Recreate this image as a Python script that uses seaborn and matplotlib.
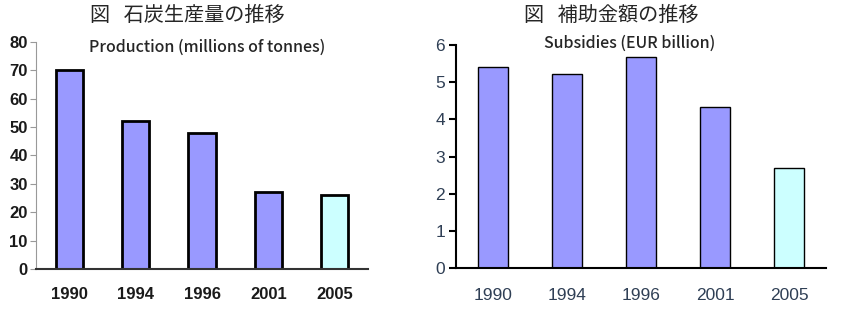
import numpy as np
import pandas as pd
import matplotlib
matplotlib.use("Agg")
import matplotlib.pyplot as plt
import seaborn as sns

# data
years = ["1990", "1994", "1996", "2001", "2005"]
production = [70, 52, 48, 27, 26]
subsidies = [5.4, 5.22, 5.68, 4.32, 2.7]
bar_colors = ["#9999FF", "#9999FF", "#9999FF", "#9999FF", "#CCFFFF"]

sns.set_style("white")
plt.rcParams['font.family'] = ['Noto Sans CJK JP', 'DejaVu Sans']

df = pd.DataFrame({"year": years, "production": production, "subsidies": subsidies})

fig = plt.figure(figsize=(8.47, 3.15), dpi=100)
ax1 = fig.add_axes([0.0425, 0.146, 0.392, 0.721])
ax2 = fig.add_axes([0.5384, 0.149, 0.4368, 0.708])

# left: coal production
sns.barplot(data=df, x="year", y="production", hue="year", palette=bar_colors, saturation=1,
            width=0.41, edgecolor="black", linewidth=2, legend=False, ax=ax1)
ax1.set_ylim(0, 80)
ax1.set_xlim(-0.5, 4.5)
ax1.set_yticks(range(0, 81, 10))
ax1.set_xlabel("")
ax1.set_ylabel("")
ax1.set_xticks(np.arange(-0.5, 5, 1), minor=True)
ax1.tick_params(axis="x", which="major", length=0, pad=13)
ax1.tick_params(axis="x", which="minor", length=3, color="#999999", direction="out")
ax1.tick_params(axis="y", length=4, color="#999999", direction="out", pad=2, left=True)
for lab in ax1.get_xticklabels() + ax1.get_yticklabels():
    lab.set_family("Liberation Sans")
    lab.set_fontweight("bold")
    lab.set_fontsize(12)
    lab.set_color("#1a1a1a")
for s in ["top", "right"]:
    ax1.spines[s].set_visible(False)
ax1.spines["left"].set_color("#999999")
ax1.spines["bottom"].set_color("#333333")
ax1.spines["bottom"].set_linewidth(1.5)

# right: subsidies
sns.barplot(data=df, x="year", y="subsidies", hue="year", palette=bar_colors, saturation=1,
            width=0.4, edgecolor="black", linewidth=1, legend=False, ax=ax2)
ax2.set_ylim(0, 6)
ax2.set_xlim(-0.5, 4.5)
ax2.set_yticks(range(0, 7))
ax2.set_xlabel("")
ax2.set_ylabel("")
ax2.set_xticks(np.arange(-0.5, 5, 1), minor=True)
ax2.tick_params(axis="x", which="major", length=0, pad=14)
ax2.tick_params(axis="x", which="minor", length=6, width=1.5, color="black", direction="out")
ax2.tick_params(axis="y", length=5, width=1.5, color="black", direction="out", pad=3, left=True)
for lab in ax2.get_xticklabels() + ax2.get_yticklabels():
    lab.set_family("Liberation Sans")
    lab.set_fontsize(12.5)
    lab.set_color("#2f3f55")
for s in ["top", "right"]:
    ax2.spines[s].set_visible(False)
ax2.spines["left"].set_color("black")
ax2.spines["left"].set_linewidth(1.5)
ax2.spines["bottom"].set_color("black")
ax2.spines["bottom"].set_linewidth(1.5)

# titles
fig.text(187 / 847, 1 - 15 / 315, "図   石炭生産量の推移", ha="center", va="center", fontsize=14.5)
fig.text(611 / 847, 1 - 15 / 315, "図   補助金額の推移", ha="center", va="center", fontsize=14.5)
fig.text(207 / 847, 1 - 47 / 315, "Production (millions of tonnes)", ha="center", va="center",
         fontsize=11.5, fontweight="medium")
fig.text(630 / 847, 1 - 43 / 315, "Subsidies (EUR billion)", ha="center", va="center",
         fontsize=11.5, fontweight="medium")

fig.savefig("out.png", dpi=100)
